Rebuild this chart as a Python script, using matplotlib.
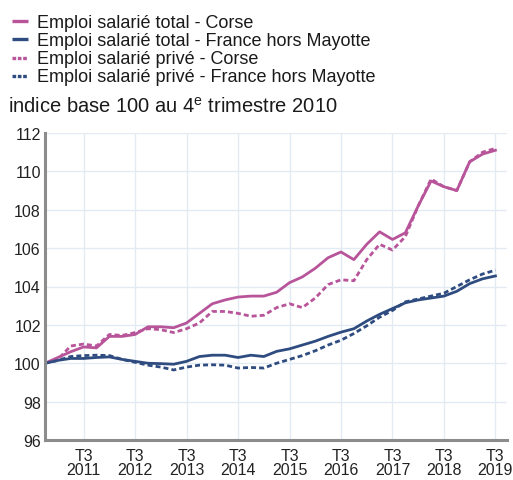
import matplotlib.pyplot as plt
from matplotlib.lines import Line2D

plt.rcParams["font.family"] = ["Liberation Sans", "DejaVu Sans"]

# quarters from Q4 2010 (index 0) to Q3 2019 (index 35)
quarters = list(range(36))
tick_pos = [3, 7, 11, 15, 19, 23, 27, 31, 35]
tick_labels = ["T3\n2011", "T3\n2012", "T3\n2013", "T3\n2014", "T3\n2015",
               "T3\n2016", "T3\n2017", "T3\n2018", "T3\n2019"]

total_corse = [100.0, 100.3, 100.6, 100.85, 100.8, 101.4, 101.4, 101.5, 101.9,
               101.9, 101.85, 102.1, 102.6, 103.1, 103.3, 103.45, 103.5, 103.5,
               103.7, 104.2, 104.5, 104.95, 105.5, 105.8, 105.4, 106.2, 106.85,
               106.45, 106.8, 108.2, 109.5, 109.2, 109.0, 110.5, 110.9, 111.1]
total_france = [100.0, 100.15, 100.25, 100.25, 100.3, 100.33, 100.2, 100.1, 100.0,
                99.98, 99.95, 100.1, 100.35, 100.42, 100.42, 100.3, 100.42, 100.35,
                100.62, 100.75, 100.95, 101.15, 101.4, 101.62, 101.8, 102.2, 102.55,
                102.85, 103.15, 103.3, 103.4, 103.5, 103.75, 104.15, 104.4, 104.55]
prive_corse = [100.0, 100.2, 100.9, 101.0, 100.9, 101.5, 101.45, 101.6, 101.8,
               101.75, 101.6, 101.8, 102.1, 102.7, 102.7, 102.6, 102.45, 102.5,
               102.9, 103.1, 102.9, 103.4, 104.1, 104.35, 104.3, 105.4, 106.2,
               105.9, 106.6, 108.2, 109.6, 109.2, 109.0, 110.5, 111.0, 111.2]
prive_france = [100.0, 100.15, 100.35, 100.4, 100.42, 100.4, 100.2, 100.05, 99.9,
                99.8, 99.65, 99.8, 99.9, 99.92, 99.9, 99.75, 99.78, 99.75,
                100.0, 100.2, 100.4, 100.65, 100.95, 101.2, 101.55, 101.95, 102.4,
                102.75, 103.2, 103.35, 103.5, 103.65, 104.0, 104.35, 104.65, 104.85]

labels = ["Emploi salarié total - Corse",
          "Emploi salarié total - France hors Mayotte",
          "Emploi salarié privé - Corse",
          "Emploi salarié privé - France hors Mayotte"]

PINK = "#b8559a"
NAVY = "#2f4c80"
DASH = (1.8, 1.1)
W, H = 513, 481

fig = plt.figure(figsize=(W / 100, H / 100), dpi=100)
ax = fig.add_axes([45 / W, 40 / H, 462 / W, 307 / H])

ax.plot(quarters, total_corse, color=PINK, lw=2.0)
ax.plot(quarters, total_france, color=NAVY, lw=2.0)
ax.plot(quarters, prive_corse, color=PINK, lw=2.0, dashes=DASH)
ax.plot(quarters, prive_france, color=NAVY, lw=2.0, dashes=DASH)

ax.set_xlim(0, 35.9)
ax.set_ylim(96, 112)
ax.set_yticks(range(96, 113, 2))
ax.set_xticks(tick_pos)
ax.set_xticklabels(tick_labels, linespacing=0.9)
ax.tick_params(length=0, labelsize=11.5, colors="#222222")
ax.tick_params(axis="y", pad=3)
ax.tick_params(axis="x", pad=6)
ax.grid(color="#e2ebf3", lw=1.0)
ax.set_axisbelow(True)
for s in ["top", "right"]:
    ax.spines[s].set_visible(False)
for s in ["left", "bottom"]:
    ax.spines[s].set_color("#8c8c8c")
    ax.spines[s].set_linewidth(2.2)

# legend drawn by hand to match the tight row spacing
styles = [(PINK, None), (NAVY, None), (PINK, (1.1, 0.5)), (NAVY, (1.1, 0.5))]
for k, (lab, (col, dsh)) in enumerate(zip(labels, styles)):
    yc = 22 + k * 18.3
    ln = Line2D([12 / W, 28 / W], [1 - yc / H] * 2, transform=fig.transFigure,
                color=col, lw=2.4, solid_capstyle="butt", dash_capstyle="butt")
    if dsh:
        ln.set_dashes(dsh)
    fig.add_artist(ln)
    fig.text(37 / W, 1 - (yc + 1) / H, lab, fontsize=13, va="center", ha="left",
             color="#1a1a1a")

fig.text(8 / W, 1 - 113 / H, r"indice base 100 au 4$^{\mathregular{e}}$ trimestre 2010",
         fontsize=14.5, va="baseline", ha="left", color="#1a1a1a")

fig.savefig("out.png", dpi=100)
